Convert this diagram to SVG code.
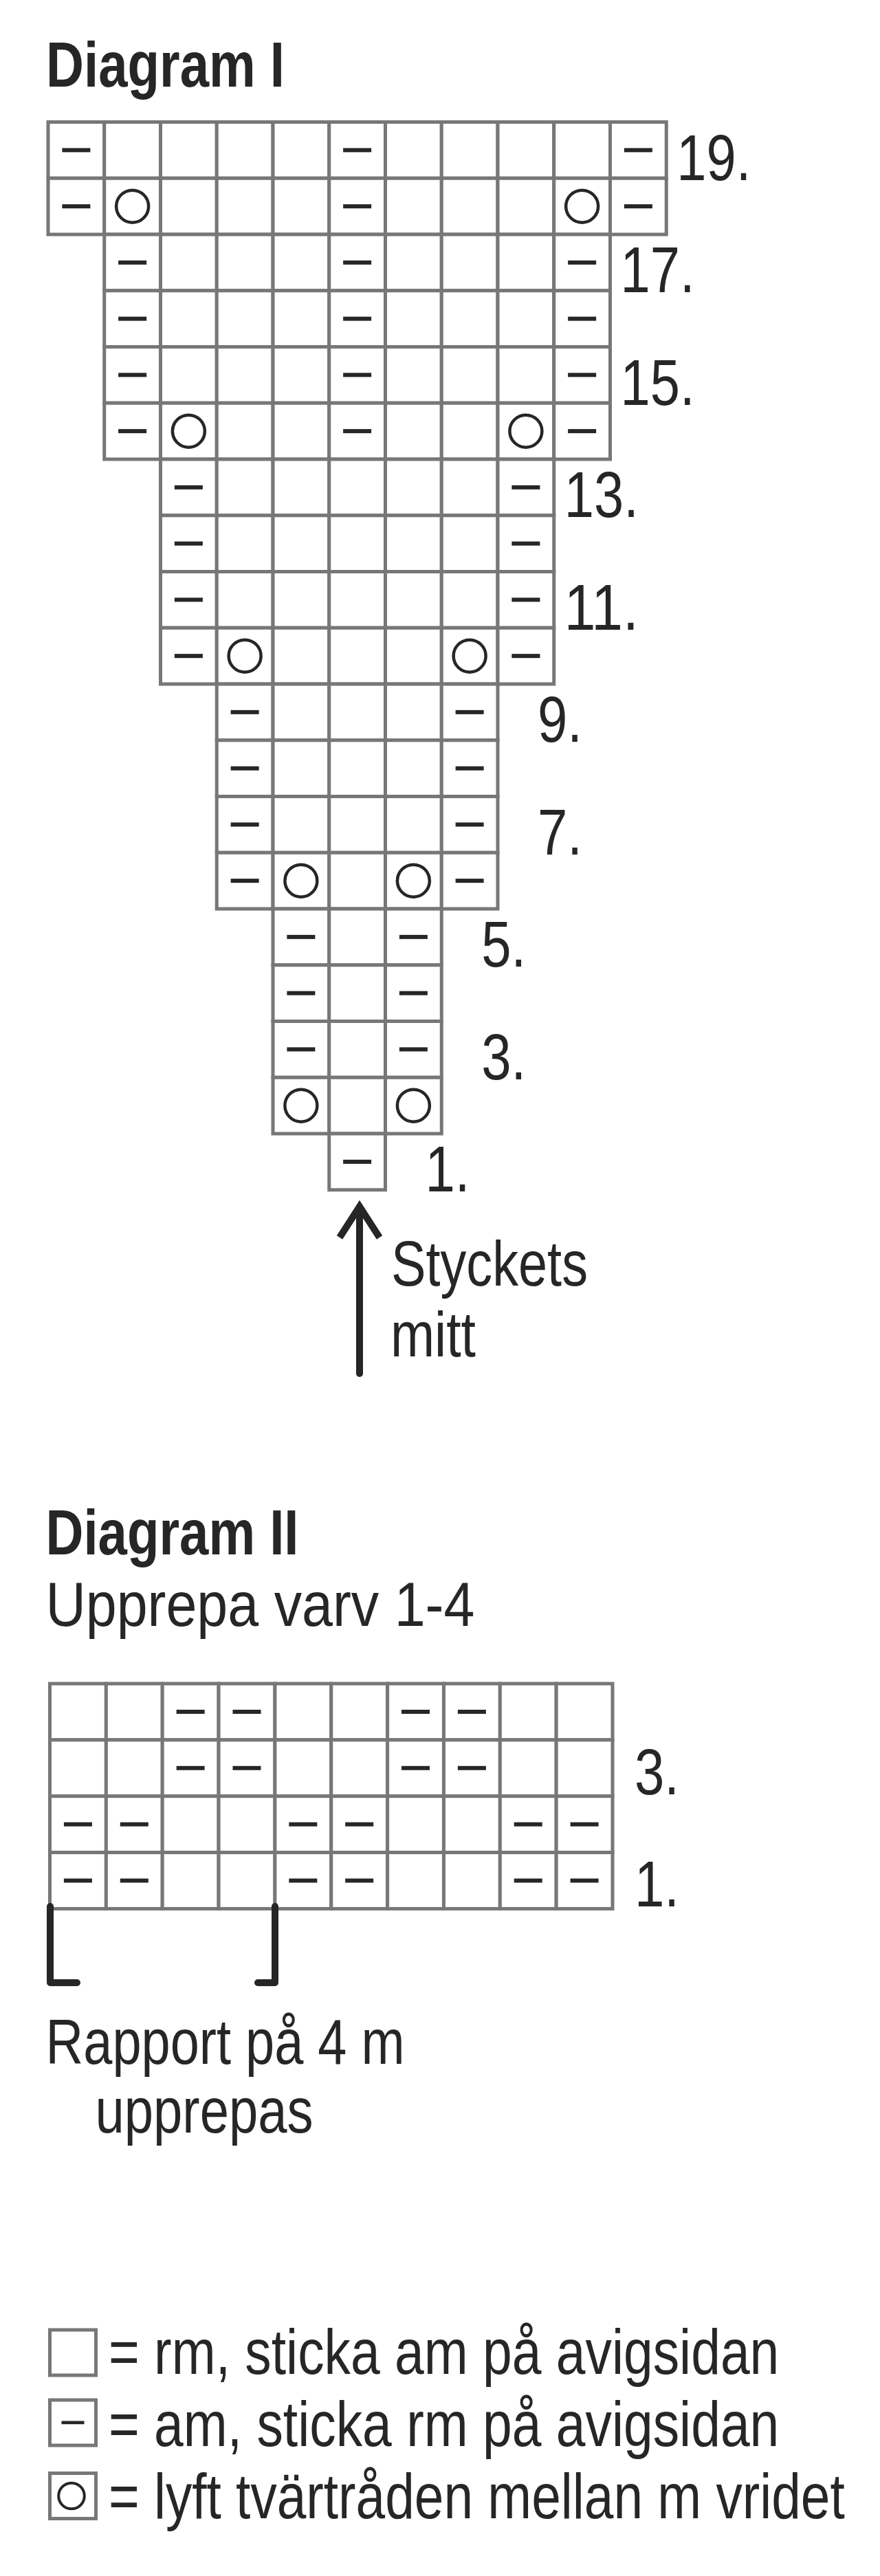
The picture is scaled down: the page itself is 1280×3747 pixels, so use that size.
<svg xmlns="http://www.w3.org/2000/svg" width="1280" height="3747" viewBox="0 0 1280 3747">
<style>
.cell{fill:#fff;stroke:#777;stroke-width:5}
.t{font-family:"Liberation Sans",Arial,sans-serif;fill:#262626}
.b{font-weight:bold}
.ink{fill:#262626}
.ring{fill:none;stroke:#262626;stroke-width:4.5}
.conn{fill:none;stroke:#262626;stroke-width:10}
.lbl{font-size:95px;text-anchor:end}
.big{font-size:93px}
</style>
<defs>
<rect id="c" width="81.75" height="81.75" class="cell"/>
<rect id="c2" width="81.85" height="81.85" class="cell"/>
<rect id="d" x="-20.5" y="-3" width="41" height="6" class="ink"/>
<circle id="o" r="23.5" class="ring"/>
</defs>
<rect width="1280" height="3747" fill="#fff"/>

<g id="title1"><text class="t b big" x="67" y="126" textLength="347" lengthAdjust="spacingAndGlyphs">Diagram I</text></g>

<g id="diagram1">
<g id="d1-row19">
<use href="#c" x="70" y="177.5"/><use href="#c" x="151.75" y="177.5"/><use href="#c" x="233.5" y="177.5"/><use href="#c" x="315.25" y="177.5"/><use href="#c" x="397" y="177.5"/><use href="#c" x="478.75" y="177.5"/><use href="#c" x="560.5" y="177.5"/><use href="#c" x="642.25" y="177.5"/><use href="#c" x="724" y="177.5"/><use href="#c" x="805.75" y="177.5"/><use href="#c" x="887.5" y="177.5"/>
<use href="#d" x="110.875" y="218.375"/><use href="#d" x="519.625" y="218.375"/><use href="#d" x="928.375" y="218.375"/>
</g>
<g id="d1-row18">
<use href="#c" x="70" y="259.25"/><use href="#c" x="151.75" y="259.25"/><use href="#c" x="233.5" y="259.25"/><use href="#c" x="315.25" y="259.25"/><use href="#c" x="397" y="259.25"/><use href="#c" x="478.75" y="259.25"/><use href="#c" x="560.5" y="259.25"/><use href="#c" x="642.25" y="259.25"/><use href="#c" x="724" y="259.25"/><use href="#c" x="805.75" y="259.25"/><use href="#c" x="887.5" y="259.25"/>
<use href="#d" x="110.875" y="300.125"/><use href="#o" x="192.625" y="300.125"/><use href="#d" x="519.625" y="300.125"/><use href="#o" x="846.625" y="300.125"/><use href="#d" x="928.375" y="300.125"/>
</g>
<g id="d1-row17">
<use href="#c" x="151.75" y="341"/><use href="#c" x="233.5" y="341"/><use href="#c" x="315.25" y="341"/><use href="#c" x="397" y="341"/><use href="#c" x="478.75" y="341"/><use href="#c" x="560.5" y="341"/><use href="#c" x="642.25" y="341"/><use href="#c" x="724" y="341"/><use href="#c" x="805.75" y="341"/>
<use href="#d" x="192.625" y="381.875"/><use href="#d" x="519.625" y="381.875"/><use href="#d" x="846.625" y="381.875"/>
</g>
<g id="d1-row16">
<use href="#c" x="151.75" y="422.75"/><use href="#c" x="233.5" y="422.75"/><use href="#c" x="315.25" y="422.75"/><use href="#c" x="397" y="422.75"/><use href="#c" x="478.75" y="422.75"/><use href="#c" x="560.5" y="422.75"/><use href="#c" x="642.25" y="422.75"/><use href="#c" x="724" y="422.75"/><use href="#c" x="805.75" y="422.75"/>
<use href="#d" x="192.625" y="463.625"/><use href="#d" x="519.625" y="463.625"/><use href="#d" x="846.625" y="463.625"/>
</g>
<g id="d1-row15">
<use href="#c" x="151.75" y="504.5"/><use href="#c" x="233.5" y="504.5"/><use href="#c" x="315.25" y="504.5"/><use href="#c" x="397" y="504.5"/><use href="#c" x="478.75" y="504.5"/><use href="#c" x="560.5" y="504.5"/><use href="#c" x="642.25" y="504.5"/><use href="#c" x="724" y="504.5"/><use href="#c" x="805.75" y="504.5"/>
<use href="#d" x="192.625" y="545.375"/><use href="#d" x="519.625" y="545.375"/><use href="#d" x="846.625" y="545.375"/>
</g>
<g id="d1-row14">
<use href="#c" x="151.75" y="586.25"/><use href="#c" x="233.5" y="586.25"/><use href="#c" x="315.25" y="586.25"/><use href="#c" x="397" y="586.25"/><use href="#c" x="478.75" y="586.25"/><use href="#c" x="560.5" y="586.25"/><use href="#c" x="642.25" y="586.25"/><use href="#c" x="724" y="586.25"/><use href="#c" x="805.75" y="586.25"/>
<use href="#d" x="192.625" y="627.125"/><use href="#o" x="274.375" y="627.125"/><use href="#d" x="519.625" y="627.125"/><use href="#o" x="764.875" y="627.125"/><use href="#d" x="846.625" y="627.125"/>
</g>
<g id="d1-row13">
<use href="#c" x="233.5" y="668"/><use href="#c" x="315.25" y="668"/><use href="#c" x="397" y="668"/><use href="#c" x="478.75" y="668"/><use href="#c" x="560.5" y="668"/><use href="#c" x="642.25" y="668"/><use href="#c" x="724" y="668"/>
<use href="#d" x="274.375" y="708.875"/><use href="#d" x="764.875" y="708.875"/>
</g>
<g id="d1-row12">
<use href="#c" x="233.5" y="749.75"/><use href="#c" x="315.25" y="749.75"/><use href="#c" x="397" y="749.75"/><use href="#c" x="478.75" y="749.75"/><use href="#c" x="560.5" y="749.75"/><use href="#c" x="642.25" y="749.75"/><use href="#c" x="724" y="749.75"/>
<use href="#d" x="274.375" y="790.625"/><use href="#d" x="764.875" y="790.625"/>
</g>
<g id="d1-row11">
<use href="#c" x="233.5" y="831.5"/><use href="#c" x="315.25" y="831.5"/><use href="#c" x="397" y="831.5"/><use href="#c" x="478.75" y="831.5"/><use href="#c" x="560.5" y="831.5"/><use href="#c" x="642.25" y="831.5"/><use href="#c" x="724" y="831.5"/>
<use href="#d" x="274.375" y="872.375"/><use href="#d" x="764.875" y="872.375"/>
</g>
<g id="d1-row10">
<use href="#c" x="233.5" y="913.25"/><use href="#c" x="315.25" y="913.25"/><use href="#c" x="397" y="913.25"/><use href="#c" x="478.75" y="913.25"/><use href="#c" x="560.5" y="913.25"/><use href="#c" x="642.25" y="913.25"/><use href="#c" x="724" y="913.25"/>
<use href="#d" x="274.375" y="954.125"/><use href="#o" x="356.125" y="954.125"/><use href="#o" x="683.125" y="954.125"/><use href="#d" x="764.875" y="954.125"/>
</g>
<g id="d1-row9">
<use href="#c" x="315.25" y="995"/><use href="#c" x="397" y="995"/><use href="#c" x="478.75" y="995"/><use href="#c" x="560.5" y="995"/><use href="#c" x="642.25" y="995"/>
<use href="#d" x="356.125" y="1035.875"/><use href="#d" x="683.125" y="1035.875"/>
</g>
<g id="d1-row8">
<use href="#c" x="315.25" y="1076.75"/><use href="#c" x="397" y="1076.75"/><use href="#c" x="478.75" y="1076.75"/><use href="#c" x="560.5" y="1076.75"/><use href="#c" x="642.25" y="1076.75"/>
<use href="#d" x="356.125" y="1117.625"/><use href="#d" x="683.125" y="1117.625"/>
</g>
<g id="d1-row7">
<use href="#c" x="315.25" y="1158.5"/><use href="#c" x="397" y="1158.5"/><use href="#c" x="478.75" y="1158.5"/><use href="#c" x="560.5" y="1158.5"/><use href="#c" x="642.25" y="1158.5"/>
<use href="#d" x="356.125" y="1199.375"/><use href="#d" x="683.125" y="1199.375"/>
</g>
<g id="d1-row6">
<use href="#c" x="315.25" y="1240.25"/><use href="#c" x="397" y="1240.25"/><use href="#c" x="478.75" y="1240.25"/><use href="#c" x="560.5" y="1240.25"/><use href="#c" x="642.25" y="1240.25"/>
<use href="#d" x="356.125" y="1281.125"/><use href="#o" x="437.875" y="1281.125"/><use href="#o" x="601.375" y="1281.125"/><use href="#d" x="683.125" y="1281.125"/>
</g>
<g id="d1-row5">
<use href="#c" x="397" y="1322"/><use href="#c" x="478.75" y="1322"/><use href="#c" x="560.5" y="1322"/>
<use href="#d" x="437.875" y="1362.875"/><use href="#d" x="601.375" y="1362.875"/>
</g>
<g id="d1-row4">
<use href="#c" x="397" y="1403.75"/><use href="#c" x="478.75" y="1403.75"/><use href="#c" x="560.5" y="1403.75"/>
<use href="#d" x="437.875" y="1444.625"/><use href="#d" x="601.375" y="1444.625"/>
</g>
<g id="d1-row3">
<use href="#c" x="397" y="1485.5"/><use href="#c" x="478.75" y="1485.5"/><use href="#c" x="560.5" y="1485.5"/>
<use href="#d" x="437.875" y="1526.375"/><use href="#d" x="601.375" y="1526.375"/>
</g>
<g id="d1-row2">
<use href="#c" x="397" y="1567.25"/><use href="#c" x="478.75" y="1567.25"/><use href="#c" x="560.5" y="1567.25"/>
<use href="#o" x="437.875" y="1608.125"/><use href="#o" x="601.375" y="1608.125"/>
</g>
<g id="d1-row1">
<use href="#c" x="478.75" y="1649"/>
<use href="#d" x="519.625" y="1689.875"/>
</g>
</g>

<g id="d1-labels" class="t lbl">
<text x="1092.25" y="261.75" textLength="108" lengthAdjust="spacingAndGlyphs">19.</text>
<text x="1010.5" y="425.25" textLength="108" lengthAdjust="spacingAndGlyphs">17.</text>
<text x="1010.5" y="588.75" textLength="108" lengthAdjust="spacingAndGlyphs">15.</text>
<text x="928.75" y="752.25" textLength="108" lengthAdjust="spacingAndGlyphs">13.</text>
<text x="928.75" y="915.75" textLength="108" lengthAdjust="spacingAndGlyphs">11.</text>
<text x="847" y="1079.25" textLength="65" lengthAdjust="spacingAndGlyphs">9.</text>
<text x="847" y="1242.75" textLength="65" lengthAdjust="spacingAndGlyphs">7.</text>
<text x="765.25" y="1406.25" textLength="65" lengthAdjust="spacingAndGlyphs">5.</text>
<text x="765.25" y="1569.75" textLength="65" lengthAdjust="spacingAndGlyphs">3.</text>
<text x="683.5" y="1733.25" textLength="65" lengthAdjust="spacingAndGlyphs">1.</text>
</g>

<g id="center-label" class="t big">
<text x="569" y="1870" textLength="286" lengthAdjust="spacingAndGlyphs">Styckets</text>
<text x="568" y="1973" textLength="124" lengthAdjust="spacingAndGlyphs">mitt</text>
</g>

<g id="title2">
<text class="t b big" x="66.5" y="2261" textLength="368" lengthAdjust="spacingAndGlyphs">Diagram II</text>
<text class="t" font-size="91" x="66.4" y="2365" textLength="624" lengthAdjust="spacingAndGlyphs">Upprepa varv 1-4</text>
</g>

<g id="diagram2">
<g id="d2-row4">
<use href="#c2" x="72.5" y="2449"/><use href="#c2" x="154.35" y="2449"/><use href="#c2" x="236.2" y="2449"/><use href="#c2" x="318.05" y="2449"/><use href="#c2" x="399.9" y="2449"/><use href="#c2" x="481.75" y="2449"/><use href="#c2" x="563.6" y="2449"/><use href="#c2" x="645.45" y="2449"/><use href="#c2" x="727.3" y="2449"/><use href="#c2" x="809.15" y="2449"/>
<use href="#d" x="277.125" y="2489.925"/><use href="#d" x="358.975" y="2489.925"/><use href="#d" x="604.525" y="2489.925"/><use href="#d" x="686.375" y="2489.925"/>
</g>
<g id="d2-row3">
<use href="#c2" x="72.5" y="2530.85"/><use href="#c2" x="154.35" y="2530.85"/><use href="#c2" x="236.2" y="2530.85"/><use href="#c2" x="318.05" y="2530.85"/><use href="#c2" x="399.9" y="2530.85"/><use href="#c2" x="481.75" y="2530.85"/><use href="#c2" x="563.6" y="2530.85"/><use href="#c2" x="645.45" y="2530.85"/><use href="#c2" x="727.3" y="2530.85"/><use href="#c2" x="809.15" y="2530.85"/>
<use href="#d" x="277.125" y="2571.775"/><use href="#d" x="358.975" y="2571.775"/><use href="#d" x="604.525" y="2571.775"/><use href="#d" x="686.375" y="2571.775"/>
</g>
<g id="d2-row2">
<use href="#c2" x="72.5" y="2612.7"/><use href="#c2" x="154.35" y="2612.7"/><use href="#c2" x="236.2" y="2612.7"/><use href="#c2" x="318.05" y="2612.7"/><use href="#c2" x="399.9" y="2612.7"/><use href="#c2" x="481.75" y="2612.7"/><use href="#c2" x="563.6" y="2612.7"/><use href="#c2" x="645.45" y="2612.7"/><use href="#c2" x="727.3" y="2612.7"/><use href="#c2" x="809.15" y="2612.7"/>
<use href="#d" x="113.425" y="2653.625"/><use href="#d" x="195.275" y="2653.625"/><use href="#d" x="440.825" y="2653.625"/><use href="#d" x="522.675" y="2653.625"/><use href="#d" x="768.225" y="2653.625"/><use href="#d" x="850.075" y="2653.625"/>
</g>
<g id="d2-row1">
<use href="#c2" x="72.5" y="2694.55"/><use href="#c2" x="154.35" y="2694.55"/><use href="#c2" x="236.2" y="2694.55"/><use href="#c2" x="318.05" y="2694.55"/><use href="#c2" x="399.9" y="2694.55"/><use href="#c2" x="481.75" y="2694.55"/><use href="#c2" x="563.6" y="2694.55"/><use href="#c2" x="645.45" y="2694.55"/><use href="#c2" x="727.3" y="2694.55"/><use href="#c2" x="809.15" y="2694.55"/>
<use href="#d" x="113.425" y="2735.475"/><use href="#d" x="195.275" y="2735.475"/><use href="#d" x="440.825" y="2735.475"/><use href="#d" x="522.675" y="2735.475"/><use href="#d" x="768.225" y="2735.475"/><use href="#d" x="850.075" y="2735.475"/>
</g>
</g>

<g id="d2-labels" class="t lbl">
<text x="988" y="2609.5" textLength="65" lengthAdjust="spacingAndGlyphs">3.</text>
<text x="988" y="2773" textLength="65" lengthAdjust="spacingAndGlyphs">1.</text>
</g>

<g id="connectors">
<path class="conn" stroke-linecap="round" d="M523,1998 V1760"/>
<polyline class="conn" stroke-linejoin="miter" points="494,1800 523,1755 552,1800"/>
<path class="conn" stroke-linecap="round" stroke-linejoin="round" d="M73,2773 V2884 H112"/>
<path class="conn" stroke-linecap="round" stroke-linejoin="round" d="M400,2773 V2884 H375"/>
</g>

<g id="repeat-label" class="t big">
<text x="66.6" y="3001.7" textLength="522" lengthAdjust="spacingAndGlyphs">Rapport på 4 m</text>
<text x="138.5" y="3101.7" textLength="317" lengthAdjust="spacingAndGlyphs">upprepas</text>
</g>

<g id="legend">
<g id="legend-knit">
<rect x="72.5" y="3389" width="67" height="66" class="cell"/>
<text class="t big" transform="translate(157.9,3453) scale(0.826,1)">= rm, sticka am på avigsidan</text>
</g>
<g id="legend-purl">
<rect x="72.5" y="3491" width="67" height="66" class="cell"/>
<rect x="89.5" y="3521.5" width="33" height="4.7" class="ink"/>
<text class="t big" transform="translate(157.9,3558) scale(0.826,1)">= am, sticka rm på avigsidan</text>
</g>
<g id="legend-twist">
<rect x="72.5" y="3597.5" width="67" height="66" class="cell"/>
<circle cx="104" cy="3630.5" r="18.8" fill="none" stroke="#262626" stroke-width="4"/>
<text class="t big" transform="translate(157.9,3663) scale(0.824,1)">= lyft tvärtråden mellan m vridet</text>
</g>
</g>
</svg>
